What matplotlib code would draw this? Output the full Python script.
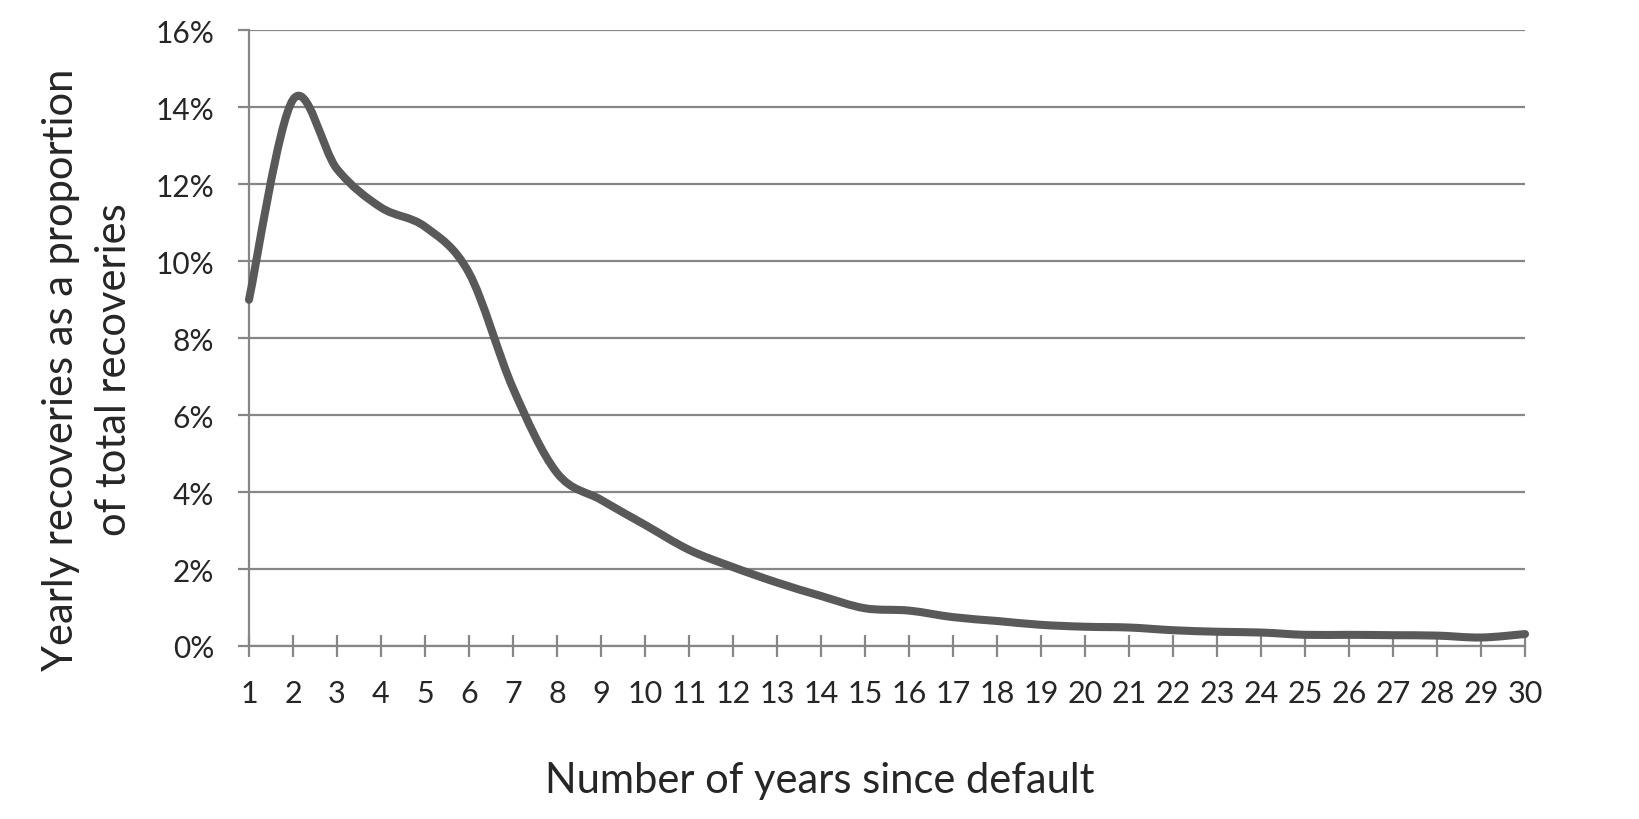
import matplotlib
matplotlib.use("Agg")
import matplotlib.pyplot as plt
import numpy as np
from matplotlib.path import Path
from matplotlib.patches import PathPatch
from matplotlib.ticker import PercentFormatter

years = list(range(1, 31))
recovery_share = [0.090, 0.142, 0.124, 0.114, 0.109, 0.097, 0.067, 0.045,
                  0.038, 0.0315, 0.025, 0.0205, 0.0165, 0.013, 0.0098, 0.0092,
                  0.0075, 0.0065, 0.0055, 0.0050, 0.0048, 0.0041, 0.0037,
                  0.0035, 0.0029, 0.0029, 0.0028, 0.0027, 0.0022, 0.0031]

x_label = "Number of years since default"
y_label = "Yearly recoveries as a proportion\nof total recoveries"

GRID = "#868686"
LINE = "#595959"
TEXT = "#262626"

plt.rcParams["font.family"] = ["Lato", "DejaVu Sans"]

fig = plt.figure(figsize=(16.4, 8.2), dpi=100)
ax = fig.add_axes([0.1518, 0.211, 0.7781, 0.7506])


def smooth_path(xs, ys):
    # excel-style smoothed line: cubic bezier with catmull-rom tangents
    xs = np.asarray(xs, float)
    ys = np.asarray(ys, float)
    verts = [(xs[0], ys[0])]
    codes = [Path.MOVETO]
    n = len(xs)
    for i in range(n - 1):
        p0 = i - 1 if i > 0 else i
        p3 = i + 2 if i + 2 < n else i + 1
        c1 = (xs[i] + (xs[i + 1] - xs[p0]) / 6, ys[i] + (ys[i + 1] - ys[p0]) / 6)
        c2 = (xs[i + 1] - (xs[p3] - xs[i]) / 6, ys[i + 1] - (ys[p3] - ys[i]) / 6)
        verts += [c1, c2, (xs[i + 1], ys[i + 1])]
        codes += [Path.CURVE4] * 3
    return Path(verts, codes)


ax.add_patch(PathPatch(smooth_path(years, recovery_share), facecolor="none",
                       edgecolor=LINE, lw=5.8, capstyle="round",
                       joinstyle="round", zorder=3, clip_on=False))

ax.set_xlim(1, 30)
ax.set_ylim(0, 0.16)
ax.set_xticks(years)
ax.set_yticks(np.arange(0, 0.161, 0.02))
ax.yaxis.set_major_formatter(PercentFormatter(1.0, decimals=0))

ax.grid(axis="y", color=GRID, lw=1.6)
ax.set_axisbelow(True)
for s in ["top", "right"]:
    ax.spines[s].set_visible(False)
for s in ["left", "bottom"]:
    ax.spines[s].set_color(GRID)
    ax.spines[s].set_linewidth(1.6)

ax.tick_params(axis="x", direction="inout", length=16, width=1.6, color=GRID,
               labelsize=22, labelcolor=TEXT, pad=16)
ax.tick_params(axis="y", direction="out", length=8, width=1.6, color=GRID,
               labelsize=21.5, labelcolor=TEXT, pad=17)

ax.set_xlabel(x_label, fontsize=30, color=TEXT, labelpad=39)
ax.set_ylabel(y_label, fontsize=30, color=TEXT, labelpad=16,
              linespacing=1.5)
# labels sit centred on the figure rather than on the plot area
ax.xaxis.label.set_x(0.4475)
ax.yaxis.label.set_y(0.45)

fig.savefig("out.png", dpi=100)
